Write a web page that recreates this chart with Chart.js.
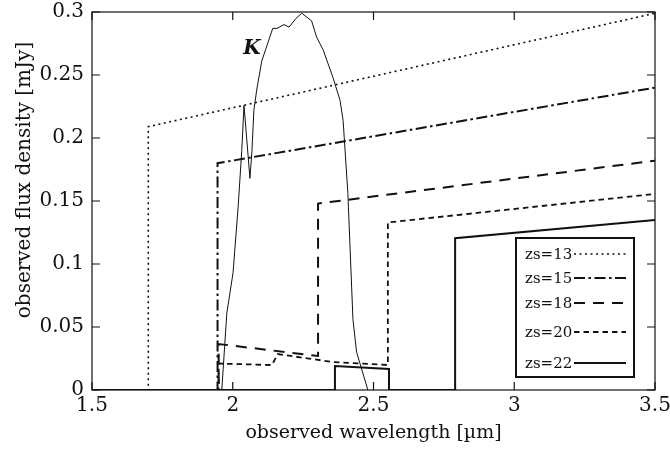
<!DOCTYPE html>
<html><head><meta charset="utf-8">
<script src="https://cdn.jsdelivr.net/npm/chart.js@4.4.0/dist/chart.umd.min.js"></script>
<style>html,body{margin:0;padding:0;background:#fff}#wrap{width:670px;height:459px}</style>
</head><body><div id="wrap"><canvas id="c" width="670" height="459"></canvas></div>
<script>
// ---- data ----
const xTicks = [1.5, 2, 2.5, 3, 3.5];
const yTicks = [0, 0.05, 0.1, 0.15, 0.2, 0.25, 0.3];
const seriesLabels = ['zs=13', 'zs=15', 'zs=18', 'zs=20', 'zs=22'];

const zs13X = [1.5, 1.70, 1.70, 3.5];
const zs13Y = [0, 0, 0.209, 0.299];

const zs15X = [1.5, 1.946, 1.946, 3.5];
const zs15Y = [0, 0, 0.180, 0.240];

const zs18X = [1.5, 1.95, 1.95, 2.303, 2.303, 3.5];
const zs18Y = [0, 0, 0.0365, 0.027, 0.148, 0.182];

const zs20X = [1.5, 1.95, 1.95, 2.139, 2.16, 2.356, 2.551, 2.551, 3.5];
const zs20Y = [0, 0, 0.021, 0.0198, 0.0285, 0.0222, 0.0198, 0.133, 0.1556];

const zs22X = [1.5, 2.363, 2.363, 2.555, 2.555, 2.79, 2.79, 3.5];
const zs22Y = [0, 0, 0.019, 0.0167, 0, 0, 0.1205, 0.135];

const kX = [1.961, 1.979, 2.001, 2.019, 2.032, 2.040, 2.061, 2.068, 2.075, 2.085, 2.103, 2.142, 2.157, 2.182, 2.200, 2.225, 2.245, 2.280, 2.298, 2.321, 2.356, 2.381, 2.392, 2.409, 2.427, 2.440, 2.480];
const kY = [0, 0.061, 0.093, 0.145, 0.190, 0.226, 0.168, 0.189, 0.222, 0.238, 0.261, 0.287, 0.287, 0.290, 0.288, 0.295, 0.299, 0.293, 0.280, 0.270, 0.248, 0.230, 0.214, 0.156, 0.056, 0.030, 0];
const kLabel = 'K';

function pts(xs, ys) { return xs.map((x, i) => ({ x: x, y: ys[i] })); }

const INK = '#111';
const FONT = '"DejaVu Serif", "Liberation Serif", serif';

const styles = [
  { dash: [2, 3.5], width: 1.6 },
  { dash: [11, 3.5, 2.5, 3.5], width: 2 },
  { dash: [11, 8], width: 2 },
  { dash: [5.5, 4], width: 1.8 },
  { dash: [], width: 2 }
];

const seriesData = [pts(zs13X, zs13Y), pts(zs15X, zs15Y), pts(zs18X, zs18Y), pts(zs20X, zs20Y), pts(zs22X, zs22Y)];

const datasets = seriesData.map((d, i) => ({
  label: seriesLabels[i], data: d, borderColor: INK, borderWidth: styles[i].width,
  borderDash: styles[i].dash, pointRadius: 0, fill: false, tension: 0, borderCapStyle: 'butt'
}));
datasets.push({ label: kLabel, data: pts(kX, kY), borderColor: INK, borderWidth: 1, pointRadius: 0, fill: false, tension: 0 });

const decor = {
  id: 'decor',
  afterDatasetsDraw(chart) {
    const ctx = chart.ctx, a = chart.chartArea, xs = chart.scales.x, ys = chart.scales.y;
    ctx.save();
    ctx.strokeStyle = INK; ctx.lineWidth = 1.2; ctx.setLineDash([]);
    ctx.strokeRect(a.left, a.top, a.right - a.left, a.bottom - a.top);
    const TL = 8;
    ctx.beginPath();
    xTicks.forEach(v => { const p = xs.getPixelForValue(v); ctx.moveTo(p, a.bottom); ctx.lineTo(p, a.bottom - TL); ctx.moveTo(p, a.top); ctx.lineTo(p, a.top + TL); });
    yTicks.forEach(v => { const p = ys.getPixelForValue(v); ctx.moveTo(a.left, p); ctx.lineTo(a.left + TL, p); ctx.moveTo(a.right, p); ctx.lineTo(a.right - TL, p); });
    ctx.stroke();
    // K label
    ctx.fillStyle = INK;
    ctx.font = 'italic bold 20px ' + FONT;
    ctx.textAlign = 'center'; ctx.textBaseline = 'middle';
    ctx.fillText(kLabel, xs.getPixelForValue(2.068), ys.getPixelForValue(0.271));
    // axis titles
    ctx.font = '19px ' + FONT;
    ctx.textBaseline = 'alphabetic';
    ctx.fillText('observed wavelength [µm]', (a.left + a.right) / 2, 438);
    ctx.save();
    ctx.translate(30, 180); ctx.rotate(-Math.PI / 2);
    ctx.font = '20px ' + FONT;
    ctx.fillText('observed flux density [mJy]', 0, 0);
    ctx.restore();
    // legend
    const L = 516, T = 238, R = 634, B = 377;
    ctx.fillStyle = '#fff';
    ctx.fillRect(L, T, R - L, B - T);
    ctx.lineWidth = 2; ctx.strokeStyle = INK;
    ctx.strokeRect(L, T, R - L, B - T);
    const rows = [254, 278, 303, 332, 363];
    ctx.font = '15px ' + FONT;
    ctx.textAlign = 'left'; ctx.textBaseline = 'middle';
    ctx.fillStyle = INK;
    seriesLabels.forEach((lab, i) => {
      ctx.fillText(lab, 525, rows[i] + 1);
      ctx.beginPath();
      ctx.setLineDash(styles[i].dash);
      ctx.lineWidth = styles[i].width;
      ctx.moveTo(574, rows[i]); ctx.lineTo(626, rows[i]);
      ctx.stroke();
    });
    ctx.restore();
  }
};

new Chart(document.getElementById('c'), {
  type: 'line',
  data: { datasets: datasets },
  options: {
    responsive: false, animation: false, devicePixelRatio: 1,
    layout: { padding: { left: 0, right: 15, top: 12, bottom: 0 } },
    plugins: { legend: { display: false }, tooltip: { enabled: false } },
    scales: {
      x: {
        type: 'linear', min: 1.5, max: 3.5,
        afterBuildTicks: s => { s.ticks = xTicks.map(v => ({ value: v })); },
        afterFit: s => { s.height = 69; s.paddingLeft = 0; s.paddingRight = 0; },
        grid: { display: false, drawTicks: false }, border: { display: false },
        ticks: { color: INK, font: { family: FONT, size: 20 }, padding: 4, maxRotation: 0, autoSkip: false, callback: v => String(v) }
      },
      y: {
        type: 'linear', min: 0, max: 0.3,
        afterBuildTicks: s => { s.ticks = yTicks.map(v => ({ value: v })); },
        afterFit: s => { s.width = 92; s.paddingTop = 0; s.paddingBottom = 0; },
        grid: { display: false, drawTicks: false }, border: { display: false },
        ticks: { color: INK, font: { family: FONT, size: 20 }, padding: 8, autoSkip: false, callback: v => String(v) }
      }
    }
  },
  plugins: [decor]
});
</script>
</body></html>
